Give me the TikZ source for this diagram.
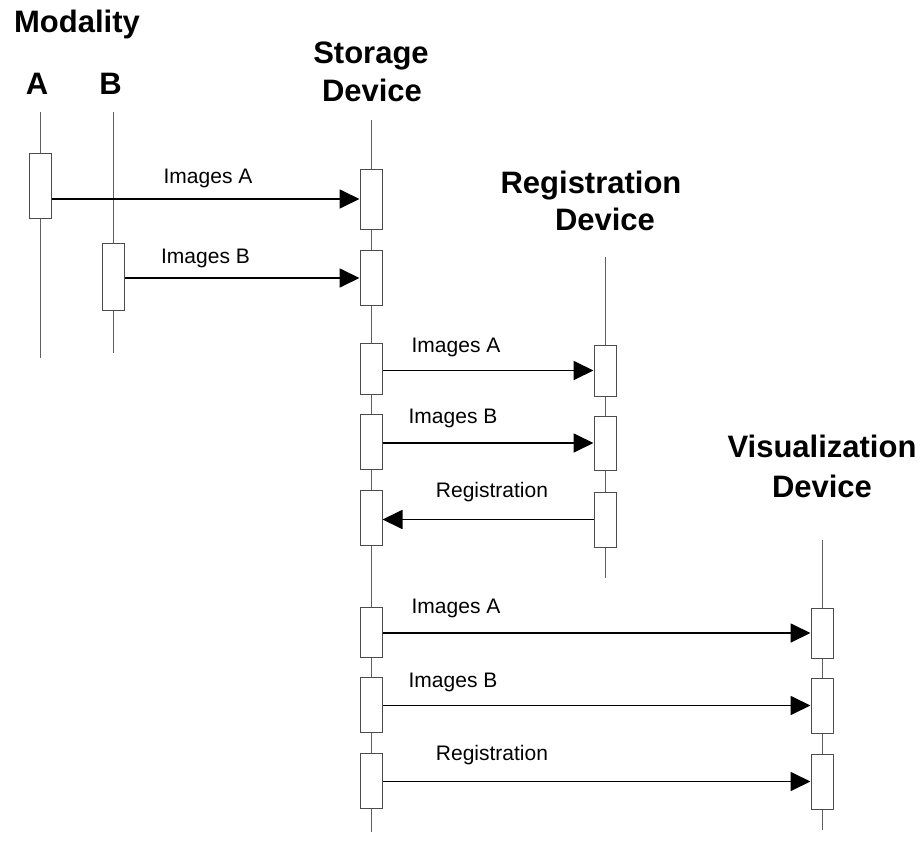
\documentclass[tikz,border=0pt]{standalone}
\usepackage{fontspec}
\setmainfont{Liberation Sans}
\usetikzlibrary{arrows.meta}

\tikzset{
  lifeline/.style={draw=gray!75!black, line width=1pt},
  actbox/.style={draw=gray!60!black, fill=white, line width=1pt, minimum width=22pt, inner sep=0pt},
  msg/.style={draw=black, line width=1.8pt, -{Triangle[length=20pt,width=19pt]}},
  msglabel/.style={anchor=base, inner sep=0pt, font=\fontsize{21}{25}\selectfont},
  title/.style={anchor=base, inner sep=0pt, font=\fontsize{31}{37}\selectfont\bfseries}
}

\begin{document}
\begin{tikzpicture}[x=1pt, y=-1pt]
			\useasboundingbox (0,0) rectangle (922,859);
			% headers
			\node[title] (tMod) at (77,33) {Modality};
			\node[title] (tA) at (37,95) {A};
			\node[title] (tB) at (110.5,95) {B};
			\node[title] (tSto) at (371,64) {Storage};
			\node[title] (tStoD) at (372,102) {Device};
			\node[title] (tReg) at (591,193) {Registration};
			\node[title] (tRegD) at (605,230) {Device};
			\node[title] (tVis) at (822,457) {Visualization};
			\node[title] (tVisD) at (822,497) {Device};
			% lifelines
			\draw[lifeline] (40,112) -- (40,358);
			\draw[lifeline] (113,112) -- (113,353);
			\draw[lifeline] (371,120) -- (371,832);
			\draw[lifeline] (605,257) -- (605,578);
			\draw[lifeline] (822,540) -- (822,830);
			% activation boxes
			\node[actbox, minimum height=65pt] (aA) at (40,185.5) {};
			\node[actbox, minimum height=67pt] (bB) at (113,276.5) {};
			\node[actbox, minimum height=60pt] (s1) at (371,199) {};
			\node[actbox, minimum height=55pt] (s2) at (371,278) {};
			\node[actbox, minimum height=51pt] (s3) at (371,368.5) {};
			\node[actbox, minimum height=55pt] (s4) at (371,441.5) {};
			\node[actbox, minimum height=55pt] (s5) at (371,517.5) {};
			\node[actbox, minimum height=50pt] (s6) at (371,632) {};
			\node[actbox, minimum height=55pt] (s7) at (371,704.5) {};
			\node[actbox, minimum height=55pt] (s8) at (371,780.5) {};
			\node[actbox, minimum height=51pt] (r1) at (605,370.5) {};
			\node[actbox, minimum height=54pt] (r2) at (605,443) {};
			\node[actbox, minimum height=55pt] (r3) at (605,519.5) {};
			\node[actbox, minimum height=50pt] (v1) at (822,633) {};
			\node[actbox, minimum height=55pt] (v2) at (822,705.5) {};
			\node[actbox, minimum height=55pt] (v3) at (822,781.5) {};
			% messages
			\draw[msg] (aA.east |- s1.west) -- (s1.west);
			\draw[msg] (bB.east |- s2.west) -- (s2.west);
			\draw[msg] (s3.east |- r1.west) -- (r1.west);
			\draw[msg] (s4.east |- r2.west) -- (r2.west);
			\draw[msg] (r3.west) -- (r3.west -| s5.east);
			\draw[msg] (s6.east |- v1.west) -- (v1.west);
			\draw[msg] (s7.east |- v2.west) -- (v2.west);
			\draw[msg] (s8.east |- v3.west) -- (v3.west);
			% message labels
			\node[msglabel] (l1) at (208,183) {Images A};
			\node[msglabel] (l2) at (205.5,263) {Images B};
			\node[msglabel] (l3) at (456,352) {Images A};
			\node[msglabel] (l4) at (453,423) {Images B};
			\node[msglabel] (l5) at (492,497) {Registration};
			\node[msglabel] (l6) at (456,613) {Images A};
			\node[msglabel] (l7) at (453,687) {Images B};
			\node[msglabel] (l8) at (492,760) {Registration};
\end{tikzpicture}
\end{document}
